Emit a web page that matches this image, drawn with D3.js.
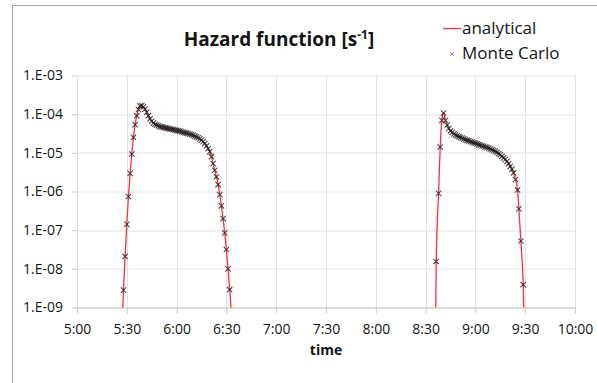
<!DOCTYPE html>
<html>
<head>
<meta charset="utf-8">
<script src="https://cdn.jsdelivr.net/npm/d3@7"></script>
<style>
  html, body { margin: 0; padding: 0; background: #fff; }
  svg { display: block; font-family: "Open Sans", sans-serif; }
</style>
</head>
<body>
<div id="main"></div>
<script>
// x values are minutes after 5:00, hazard values are log10 of the rate [1/s]
const timeTickMinutes = [0, 30, 60, 90, 120, 150, 180, 210, 240, 270, 300];
const timeTickLabels = ["5:00", "5:30", "6:00", "6:30", "7:00", "7:30", "8:00", "8:30", "9:00", "9:30", "10:00"];
const hazardTicks = [1e-9, 1e-8, 1e-7, 1e-6, 1e-5, 1e-4, 1e-3];
const hazardTickLabels = ["1.E-09", "1.E-08", "1.E-07", "1.E-06", "1.E-05", "1.E-04", "1.E-03"];

// first pulse (5:28 - 6:32), Monte Carlo estimates
const mc1Minutes = [28, 29, 30, 31, 32, 33, 34, 35, 36, 37, 38, 39, 40, 41, 42, 43, 44, 45, 46, 47,
  48, 49, 50, 51, 52, 53, 54, 55, 56, 57, 58, 59, 60, 61, 62, 63, 64, 65, 66, 67,
  68, 69, 70, 71, 72, 73, 74, 75, 76, 77, 78, 79, 80, 81, 82, 83, 84, 85, 86, 87,
  88, 89, 90, 91, 92];
const mc1LogHazard = [-8.55, -7.68, -6.85, -6.13, -5.53, -5.03, -4.60, -4.27, -4.04, -3.88, -3.79, -3.78, -3.81, -3.87, -3.95, -4.04, -4.12, -4.18, -4.23, -4.26,
  -4.28, -4.30, -4.32, -4.33, -4.34, -4.35, -4.36, -4.37, -4.38, -4.39, -4.40, -4.41, -4.42, -4.43, -4.44, -4.45, -4.47, -4.48, -4.49, -4.50,
  -4.52, -4.53, -4.55, -4.57, -4.59, -4.61, -4.64, -4.67, -4.71, -4.76, -4.82, -4.89, -4.97, -5.10, -5.28, -5.45, -5.62, -5.82, -6.08, -6.37,
  -6.70, -7.07, -7.50, -8.00, -8.54];

// second pulse (8:36 - 9:29), Monte Carlo estimates
const mc2Minutes = [216.4, 217.8, 218.8, 219.8, 220.8, 222, 223, 224, 225, 226, 227, 228, 229, 230, 231, 232, 233, 234, 235, 236,
  237, 238, 239, 240, 241, 242, 243, 244, 245, 246, 247, 248, 249, 250, 251, 252, 253, 254, 255, 256,
  257, 258, 259, 260, 261, 262, 263, 264.2, 265.4, 266.2, 267.4, 268.8];
const mc2LogHazard = [-7.81, -6.05, -4.85, -4.16, -3.97, -4.16, -4.28, -4.37, -4.43, -4.47, -4.51, -4.54, -4.56, -4.58, -4.60, -4.62, -4.64, -4.66, -4.68, -4.69,
  -4.71, -4.72, -4.74, -4.75, -4.77, -4.79, -4.80, -4.82, -4.83, -4.85, -4.86, -4.88, -4.90, -4.92, -4.94, -4.96, -4.99, -5.02, -5.05, -5.09,
  -5.13, -5.17, -5.22, -5.28, -5.35, -5.42, -5.52, -5.69, -5.96, -6.45, -7.28, -8.41];

// analytical curve: same shape, running out below 1.E-09 on both sides
const an1Minutes = [27.1, ...mc1Minutes, 93.1];
const an1LogHazard = [-9.5, ...mc1LogHazard, -9.2];
const an2Minutes = [216.0, ...mc2Minutes, 269.5];
const an2LogHazard = [-9.6, ...mc2LogHazard, -9.6];

class HazardChart {
  constructor(config) {
    this.config = config;
    this.svg = null;
    this.margins = null;
    this.xScale = null;
    this.yScale = null;
    this.createSvg();
    this.createMargins();
  }

  createSvg() {
    this.svg = d3.select(this.config.div)
      .append("svg")
      .attr("width", this.config.svgWidth)
      .attr("height", this.config.svgHeight);

    // chart frame (only top and left edges are inside the picture)
    this.svg.append("path")
      .attr("d", `M12.5,${this.config.svgHeight}V5.5H${this.config.svgWidth}`)
      .attr("fill", "none")
      .attr("stroke", "#a6a6a6")
      .attr("stroke-width", 1);
  }

  createMargins() {
    this.margins = this.svg
      .append("g")
      .attr("transform", `translate(${this.config.left},${this.config.top})`);
  }

  createScales() {
    this.xScale = d3.scaleLinear().domain([0, 300]).range([0, this.config.width]);
    this.yScale = d3.scaleLog().domain([1e-9, 1e-3]).range([this.config.height, 0]);
  }

  createAxis() {
    const w = this.config.width, h = this.config.height;

    // grid
    this.margins.append("g")
      .selectAll("line.vgrid")
      .data(timeTickMinutes)
      .join("line")
        .attr("x1", d => Math.round(this.xScale(d)) + 0.5)
        .attr("x2", d => Math.round(this.xScale(d)) + 0.5)
        .attr("y1", 0)
        .attr("y2", h)
        .attr("stroke", "#e3e3e3");

    this.margins.append("g")
      .selectAll("line.hgrid")
      .data(hazardTicks)
      .join("line")
        .attr("x1", 0)
        .attr("x2", w)
        .attr("y1", d => Math.round(this.yScale(d)) + 0.5)
        .attr("y2", d => Math.round(this.yScale(d)) + 0.5)
        .attr("stroke", "#e3e3e3");

    let xAxis = d3.axisBottom(this.xScale)
      .tickValues(timeTickMinutes)
      .tickFormat((d, i) => timeTickLabels[i])
      .tickSize(6)
      .tickSizeOuter(0)
      .tickPadding(11);

    let yAxis = d3.axisLeft(this.yScale)
      .tickValues(hazardTicks)
      .tickFormat((d, i) => hazardTickLabels[i])
      .tickSize(5)
      .tickSizeOuter(0)
      .tickPadding(9);

    const gx = this.margins.append("g")
      .attr("transform", `translate(0,${h})`)
      .call(xAxis);
    gx.select(".domain").attr("stroke", "#c8c8c8");
    gx.selectAll(".tick line").attr("stroke", "#c8c8c8");
    gx.selectAll("text").attr("fill", "#141414").style("font-size", "14px").style("font-family", "Open Sans");

    const gy = this.margins.append("g").call(yAxis);
    gy.select(".domain").attr("stroke", "#dcdcdc");
    gy.selectAll(".tick line").attr("stroke", "#c8c8c8");
    gy.selectAll("text").attr("fill", "#141414").style("font-size", "14px").style("font-family", "Open Sans");

    this.svg.append("text")
      .attr("x", this.config.left + w / 2)
      .attr("y", 355)
      .attr("text-anchor", "middle")
      .attr("fill", "#141414")
      .style("font-size", "14px")
      .style("font-weight", "bold")
      .text("time");

    const title = this.svg.append("text")
      .attr("x", 279)
      .attr("y", 46)
      .attr("text-anchor", "middle")
      .attr("fill", "#141414")
      .style("font-size", "19px")
      .style("font-weight", "bold");
    title.append("tspan").text("Hazard function [s");
    title.append("tspan").attr("dy", -7).style("font-size", "12px").text("-1");
    title.append("tspan").attr("dy", 7).text("]");
  }

  renderLines() {
    this.margins.append("clipPath")
      .attr("id", "plot-clip")
      .append("rect")
        .attr("x", 0).attr("y", -2)
        .attr("width", this.config.width)
        .attr("height", this.config.height + 2);

    const line = d3.line()
      .x(d => this.xScale(d[0]))
      .y(d => this.yScale(Math.pow(10, d[1])))
      .curve(d3.curveMonotoneX);

    const segments = [d3.zip(an1Minutes, an1LogHazard), d3.zip(an2Minutes, an2LogHazard)];

    this.margins.append("g")
      .attr("clip-path", "url(#plot-clip)")
      .selectAll("path")
      .data(segments)
      .join("path")
        .attr("d", line)
        .attr("fill", "none")
        .attr("stroke", "#ff3030")
        .attr("stroke-width", 1.3);
  }

  renderMarkers() {
    const pts = d3.zip(mc1Minutes, mc1LogHazard).concat(d3.zip(mc2Minutes, mc2LogHazard));
    const r = 2.7;
    this.margins.append("g")
      .selectAll("path")
      .data(pts)
      .join("path")
        .attr("transform", d => `translate(${this.xScale(d[0])},${this.yScale(Math.pow(10, d[1]))})`)
        .attr("d", `M${-r},${-r}L${r},${r}M${-r},${r}L${r},${-r}`)
        .attr("fill", "none")
        .attr("stroke", "#1e1e1e")
        .attr("stroke-opacity", 0.8)
        .attr("stroke-width", 1.1);
  }

  renderLegend() {
    const lg = this.svg.append("g");
    lg.append("line")
      .attr("x1", 443).attr("x2", 461)
      .attr("y1", 28.5).attr("y2", 28.5)
      .attr("stroke", "#ff3030")
      .attr("stroke-width", 1.3);
    lg.append("text")
      .attr("x", 462).attr("y", 34)
      .attr("fill", "#141414")
      .style("font-size", "17px")
      .text("analytical");
    const r = 1.8;
    lg.append("path")
      .attr("transform", "translate(452,54)")
      .attr("d", `M${-r},${-r}L${r},${r}M${-r},${r}L${r},${-r}`)
      .attr("stroke", "#8a8a8a")
      .attr("stroke-width", 1);
    lg.append("text")
      .attr("x", 462).attr("y", 59)
      .attr("fill", "#141414")
      .style("font-size", "17px")
      .text("Monte Carlo");
  }
}

let chartConfig = {div: "#main", svgWidth: 597, svgHeight: 383, width: 498, height: 232, top: 75.5, left: 77};
let chart = new HazardChart(chartConfig);

function main() {
  chart.createScales();
  chart.createAxis();
  chart.renderLines();
  chart.renderMarkers();
  chart.renderLegend();
}

main();
</script>
</body>
</html>
